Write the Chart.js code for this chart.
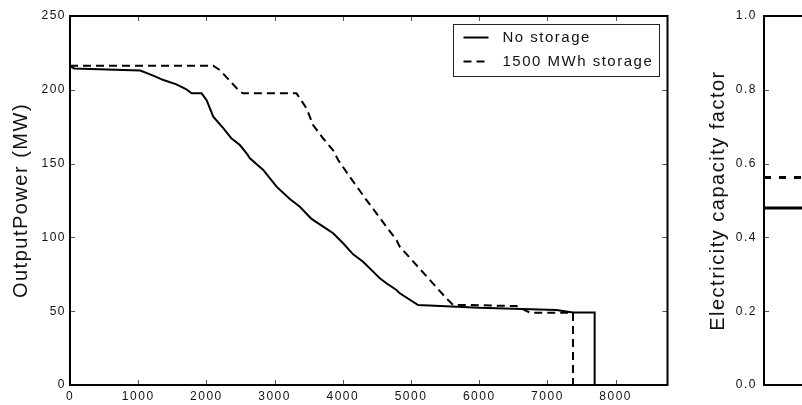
<!DOCTYPE html>
<html>
<head>
<meta charset="utf-8">
<script src="https://cdn.jsdelivr.net/npm/chart.js@4.4.1/dist/chart.umd.min.js"></script>
<style>
html, body { margin: 0; padding: 0; overflow: hidden; background: #fff; width: 802px; height: 405px; }
#left { position: absolute; left: 0; top: 0; }
#right { position: absolute; left: 700px; top: 0; }
</style>
</head>
<body>
<canvas id="left" width="700" height="405"></canvas>
<canvas id="right" width="400" height="405"></canvas>
<script>
// ---------- data ----------
const seriesLabels = ['No storage', '1500 MWh storage'];

const hoursNoStorage = [0, 60, 1030, 1220, 1370, 1560, 1700, 1783, 1929, 2003, 2100, 2247, 2369, 2491, 2589, 2637, 2833, 3028, 3223, 3370, 3541, 3712, 3858, 4004, 4151, 4297, 4444, 4542, 4640, 4786, 4835, 5104, 6000, 7130, 7375, 7692, 7692, 8760];
const powerNoStorage = [216, 214.5, 213, 209.6, 206.6, 203.7, 200.5, 197.6, 197.6, 193, 181.8, 174, 167, 162.6, 157, 153.6, 145.7, 134.4, 126, 120.8, 112.5, 107.3, 102.8, 96, 88.5, 83.5, 76.8, 72.3, 68.9, 64.4, 62.1, 54.2, 52.4, 50.8, 49.2, 49.2, 0, 0];

const hoursStorage = [0, 2100, 2198, 2491, 2540, 3321, 3468, 3565, 3712, 3858, 3932, 4103, 4347, 4786, 4835, 5519, 5616, 5812, 6544, 6740, 7375, 7375, 8760];
const powerStorage = [216.3, 216.3, 213.3, 198.7, 197.6, 197.6, 187.4, 176, 167, 159, 152.4, 141, 125.3, 98.2, 93.7, 58.7, 54.2, 54.2, 53.5, 49, 49, 0, 0];

const hourTicks = [0, 1000, 2000, 3000, 4000, 5000, 6000, 7000, 8000];
const hourRange = [0, 8760];
const powerTicks = [0, 50, 100, 150, 200, 250];

const capFactorX = [0, 1];
const capFactorNoStorage = [0.48, 0.48];
const capFactorStorage = [0.562, 0.562];
const capTicks = [0.0, 0.2, 0.4, 0.6, 0.8, 1.0];

// ---------- helpers ----------
const FONT = "'Liberation Sans', Arial, Helvetica, sans-serif";
Chart.defaults.font.family = FONT;
Chart.defaults.color = '#111';

const spacingPlugin = {
  id: 'spacing',
  beforeUpdate(chart) { chart.ctx.letterSpacing = '1.5px'; },
  beforeLayout(chart) { chart.ctx.letterSpacing = '1.5px'; },
  beforeDraw(chart) { chart.ctx.letterSpacing = '1.5px'; }
};

const framePlugin = {
  id: 'frame',
  beforeDatasetsDraw(chart, args, opts) {
    const { ctx, chartArea: a, scales } = chart;
    ctx.save();
    ctx.strokeStyle = '#555';
    ctx.lineWidth = 1;
    ctx.beginPath();
    if (opts.xTicks) {
      scales.x.ticks.forEach(t => {
        const p = Math.round(scales.x.getPixelForValue(t.value)) + 0.5;
        ctx.moveTo(p, a.bottom); ctx.lineTo(p, a.bottom - 5);
        ctx.moveTo(p, a.top); ctx.lineTo(p, a.top + 5);
      });
    }
    scales.y.ticks.forEach(t => {
      const p = Math.round(scales.y.getPixelForValue(t.value)) + 0.5;
      ctx.moveTo(a.left, p); ctx.lineTo(a.left + 5, p);
      ctx.moveTo(a.right, p); ctx.lineTo(a.right - 5, p);
    });
    ctx.stroke();
    ctx.strokeStyle = '#000';
    ctx.lineWidth = 2;
    ctx.strokeRect(a.left, a.top, a.right - a.left, a.bottom - a.top);
    ctx.restore();
  }
};

const boxLegendPlugin = {
  id: 'boxLegend',
  afterDraw(chart) {
    const ctx = chart.ctx;
    const a = chart.chartArea;
    const w = 206, h = 52;
    const x0 = Math.round(a.right - 9 - w) + 0.5;
    const y0 = Math.round(a.top + 8) + 0.5;
    ctx.save();
    ctx.letterSpacing = '1.5px';
    ctx.fillStyle = '#fff';
    ctx.fillRect(x0, y0, w, h);
    ctx.strokeStyle = '#222';
    ctx.lineWidth = 1;
    ctx.strokeRect(x0, y0, w, h);
    chart.data.datasets.forEach((ds, i) => {
      const yy = y0 + 13 + i * 24;
      ctx.beginPath();
      ctx.setLineDash(ds.borderDash || []);
      ctx.strokeStyle = ds.borderColor;
      ctx.lineWidth = ds.borderWidth;
      ctx.moveTo(x0 + 10, yy);
      ctx.lineTo(x0 + 35, yy);
      ctx.stroke();
      ctx.setLineDash([]);
      ctx.fillStyle = '#111';
      ctx.font = '15px ' + FONT;
      ctx.textBaseline = 'middle';
      ctx.textAlign = 'left';
      ctx.fillText(ds.label, x0 + 49, yy);
    });
    ctx.restore();
  }
};

const toXY = (xs, ys) => xs.map((x, i) => ({ x: x, y: ys[i] }));
const fixedTicks = list => scale => { scale.ticks = list.map(v => ({ value: v })); };

// ---------- left chart ----------
new Chart(document.getElementById('left'), {
  type: 'line',
  data: {
    datasets: [
      {
        label: seriesLabels[0],
        data: toXY(hoursNoStorage, powerNoStorage),
        borderColor: '#000', borderWidth: 2, pointRadius: 0, tension: 0, fill: false
      },
      {
        label: seriesLabels[1],
        data: toXY(hoursStorage, powerStorage),
        borderColor: '#000', borderWidth: 2, borderDash: [8, 5], pointRadius: 0, tension: 0, fill: false
      }
    ]
  },
  options: {
    responsive: false,
    animation: false,
    devicePixelRatio: 1,
    layout: { padding: { top: 16, right: 32.5, bottom: 0, left: 0 } },
    plugins: { legend: { display: false }, tooltip: { enabled: false }, frame: { xTicks: true } },
    scales: {
      x: {
        type: 'linear', min: hourRange[0], max: hourRange[1],
        grid: { display: false, drawTicks: false },
        border: { display: false },
        afterBuildTicks: fixedTicks(hourTicks),
        ticks: { padding: 4, maxRotation: 0, autoSkip: false,
                 font: { size: 12 }, color: '#111', callback: v => String(v) },
        afterFit: s => { s.height = 20; }
      },
      y: {
        type: 'linear', min: powerTicks[0], max: powerTicks[powerTicks.length - 1],
        grid: { display: false, drawTicks: false },
        border: { display: false },
        afterBuildTicks: fixedTicks(powerTicks),
        ticks: { padding: 4, font: { size: 12 }, color: '#111', callback: v => String(v) },
        title: { display: true, text: 'OutputPower (MW)', font: { size: 20 }, color: '#111', padding: { top: 9, bottom: 0 } },
        afterFit: s => { s.width = 70; }
      }
    }
  },
  plugins: [spacingPlugin, framePlugin, boxLegendPlugin]
});

// ---------- right chart (partly outside the window) ----------
new Chart(document.getElementById('right'), {
  type: 'line',
  data: {
    datasets: [
      {
        label: seriesLabels[0],
        data: toXY(capFactorX, capFactorNoStorage),
        borderColor: '#000', borderWidth: 3, pointRadius: 0, tension: 0, fill: false
      },
      {
        label: seriesLabels[1],
        data: toXY(capFactorX, capFactorStorage),
        borderColor: '#000', borderWidth: 3, borderDash: [7, 8], pointRadius: 0, tension: 0, fill: false
      }
    ]
  },
  options: {
    responsive: false,
    animation: false,
    devicePixelRatio: 1,
    layout: { padding: { top: 16, right: 0, bottom: 0, left: 0 } },
    plugins: { legend: { display: false }, tooltip: { enabled: false }, frame: { xTicks: false } },
    scales: {
      x: {
        type: 'linear', min: 0, max: 1,
        grid: { display: false, drawTicks: false },
        border: { display: false },
        ticks: { display: false },
        afterFit: s => { s.height = 20; }
      },
      y: {
        type: 'linear', min: capTicks[0], max: capTicks[capTicks.length - 1],
        grid: { display: false, drawTicks: false },
        border: { display: false },
        afterBuildTicks: fixedTicks(capTicks),
        ticks: { padding: 7, font: { size: 12 }, color: '#111', callback: v => v.toFixed(1) },
        title: { display: true, text: 'Electricity capacity factor', font: { size: 20 }, color: '#111', padding: { top: 6, bottom: 0 } },
        afterFit: s => { s.width = 64; }
      }
    }
  },
  plugins: [spacingPlugin, framePlugin]
});
</script>
</body>
</html>
